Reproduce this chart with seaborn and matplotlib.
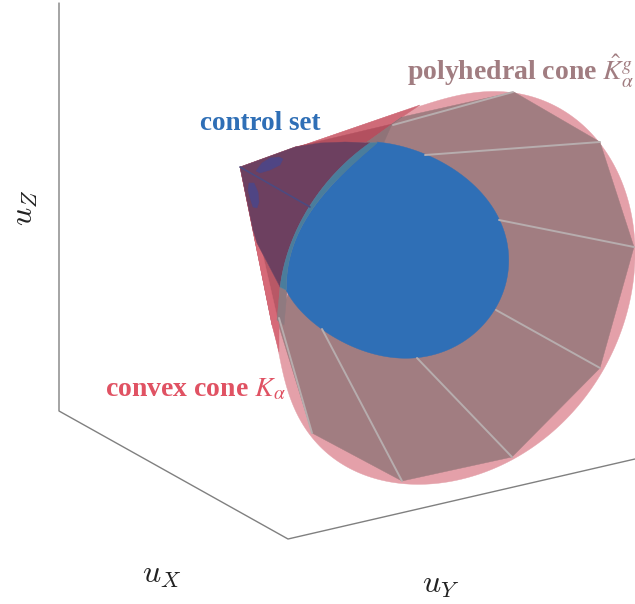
import matplotlib
matplotlib.use("Agg")
import matplotlib.pyplot as plt
import numpy as np
import seaborn as sns
import pandas as pd

sns.set_theme(style="white")
plt.rcParams['font.family'] = ['Liberation Serif', 'DejaVu Serif']
plt.rcParams['mathtext.fontset'] = 'cm'

# Picture-plane outlines
box_x = [59, 59, 288, 635]
box_y = [3, 411, 539, 459]

cone_arc_x = [400, 440, 467, 500, 513, 540, 567, 600, 613, 623, 633, 635, 632, 622, 611, 598, 566, 531, 495, 460, 420, 393, 360, 333, 312, 303, 293, 284, 278, 272]
cone_arc_y = [112, 100, 94, 92, 92, 100, 113, 140, 163, 190, 227, 250, 287, 327, 360, 380, 416, 450, 469, 478, 483, 482, 475, 460, 436, 423, 407, 375, 350, 325]
cone_apex_x = [240]
cone_apex_y = [167]

poly_x = [402, 514, 600, 634, 600, 512, 402, 312, 277, 345, 367]
poly_y = [117, 92, 142, 247, 368, 457, 481, 433, 320, 165, 142]

red_top_x = [240, 420, 402, 367, 295]
red_top_y = [167, 105, 117, 142, 147]
red_mid_x = [295, 392, 367, 320]
red_mid_y = [147, 124, 142, 143]
red_left_x = [240, 257, 280, 278, 272, 256]
red_left_y = [167, 243, 287, 320, 325, 246]
red_edge_x = [240, 243, 279, 279, 272]
red_edge_y = [167, 168, 325, 352, 325]

# dark region: straight left side, curved right side (top -> bottom)
dark_left_x = [257, 253, 240, 295, 320, 345]
dark_left_y = [243, 230, 167, 147, 143, 142]
seam_x = [370, 347, 328, 310, 300, 288, 280]
seam_y = [143, 160, 183, 205, 222, 253, 287]

# blue: outer arc clockwise, then inner arc back up
blue_arc_x = [377, 403, 427, 453, 477, 497, 507, 509, 503, 493, 473, 447, 420, 400, 370, 353, 323, 303, 286]
blue_arc_y = [142, 147, 154, 170, 188, 215, 242, 265, 292, 312, 335, 350, 357, 358, 353, 347, 330, 313, 290]
blue_back_x = [286, 293, 303, 312, 337, 360, 377]
blue_back_y = [290, 253, 223, 207, 180, 160, 142]

gray_top_x = [402, 392, 384, 367]
gray_top_y = [117, 124, 142, 142]
gray_low_x = [280, 287, 284, 277]
gray_low_y = [287, 291, 325, 320]

blob1_x = [256, 262, 270, 279, 283, 280, 270, 260]
blob1_y = [171, 163, 158, 157, 159, 165, 170, 173]
blob2_x = [249, 254, 258, 259, 257, 253, 250, 248]
blob2_y = [183, 183, 192, 202, 208, 207, 198, 190]

# start -> end of every ridge on the polyhedral cone
ridge_x = [[393, 513], [425, 600], [499, 634], [496, 600], [417, 512], [322, 402], [279, 312]]
ridge_y = [[125, 92], [155, 142], [220, 247], [310, 368], [358, 457], [329, 481], [318, 433]]
axis_ridge_x = [240, 310]
axis_ridge_y = [167, 207]

fig, ax = plt.subplots(figsize=(6.35, 6.04), dpi=100)
fig.subplots_adjust(0, 0, 1, 1)


def smooth(xs, ys, deg=3):
    """Least-squares parametric curve through the read points, to remove reading jitter."""
    xs, ys = np.asarray(xs, float), np.asarray(ys, float)
    s = np.r_[0, np.cumsum(np.hypot(np.diff(xs), np.diff(ys)))]
    s = 2 * s / s[-1] - 1
    t = np.linspace(-1, 1, 240)
    return (list(np.polyval(np.polyfit(s, xs, deg), t)),
            list(np.polyval(np.polyfit(s, ys, deg), t)))


def line(xs, ys, color, lw):
    sns.lineplot(data=pd.DataFrame({"x": xs, "y": ys}), x="x", y="y", sort=False,
                 estimator=None, color=color, linewidth=lw, ax=ax, legend=False)


def patch(xs, ys, color):
    ax.fill(xs, ys, color=color, linewidth=0.3)


line(box_x, box_y, "#808080", 1.0)

cx, cy = smooth(cone_arc_x, cone_arc_y, 9)
patch(cone_apex_x + cx, cone_apex_y + cy, "#e4a0a9")
patch(poly_x, poly_y, "#a17d81")
patch(red_top_x, red_top_y, "#cf6b78")
patch(red_mid_x, red_mid_y, "#b3505f")
patch(red_left_x, red_left_y, "#b85866")
patch(red_edge_x, red_edge_y, "#d66a78")
patch(gray_top_x, gray_top_y, "#8f7378")
patch(gray_low_x, gray_low_y, "#8f7a80")

sx, sy = smooth(seam_x, seam_y, 3)
patch(dark_left_x + sx, dark_left_y + sy, "#6d4060")

for xs, ys in zip(ridge_x, ridge_y):
    line(xs, ys, "#b7adae", 1.4)

bx1, by1 = smooth(blue_arc_x, blue_arc_y, 7)
bx2, by2 = smooth(blue_back_x, blue_back_y, 3)
patch(bx1 + bx2, by1 + by2, "#2f6fb6")
patch(sx + bx2, sy + by2, "#4a7d9c")
patch(blob1_x, blob1_y, "#4f4584")
patch(blob2_x, blob2_y, "#4f4584")
line(axis_ridge_x, axis_ridge_y, "#4c4a80", 1.2)

ax.set_xlim(0, 635)
ax.set_ylim(604, 0)
ax.axis("off")

ax.text(260, 123, "control set", color="#2f6fb6", fontsize=19.5, fontweight="bold", ha="center", va="center")
ax.text(195, 390, r"convex cone $\mathit{K}_{\alpha}$", color="#e05263", fontsize=20, fontweight="bold",
        ha="center", va="center", math_fontfamily="stix")
ax.text(521, 71, r"polyhedral cone $\hat{\mathit{K}}_{\alpha}^{g}$", color="#a17d81", fontsize=20, fontweight="bold",
        ha="center", va="center", math_fontfamily="stix")
ax.text(162, 576, r"$u_X$", color="#222222", fontsize=23, ha="center", va="center")
ax.text(441, 586, r"$u_Y$", color="#222222", fontsize=23, ha="center", va="center")
ax.text(26, 208, r"$u_Z$", color="#222222", fontsize=23, rotation=90, ha="center", va="center")

fig.savefig("out.png", dpi=100)
